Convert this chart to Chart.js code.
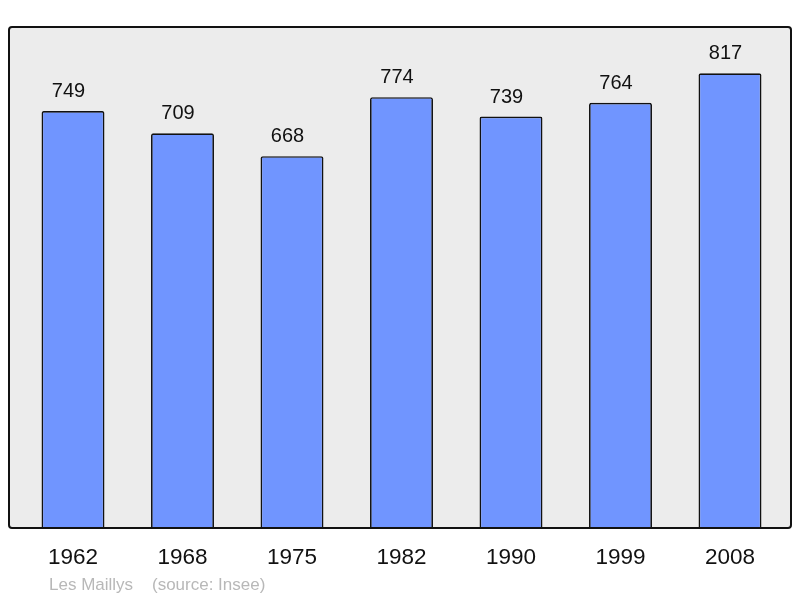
<!DOCTYPE html>
<html>
<head>
<meta charset="utf-8">
<script src="https://cdn.jsdelivr.net/npm/chart.js@4.4.0/dist/chart.umd.min.js"></script>
<style>
html,body{margin:0;padding:0;background:#fff;}
#wrap{width:800px;height:598px;position:relative;}
</style>
</head>
<body>
<div id="wrap"><canvas id="c" width="800" height="598"></canvas></div>
<script>
const categories = ["1962","1968","1975","1982","1990","1999","2008"];
const population = [749,709,668,774,739,764,817];
const yMax = 900;
const footerText = "Les Maillys    (source: Insee)";

const framePlugin = {
  id: 'frame',
  beforeDatasetsDraw(chart) {
    const {ctx, chartArea} = chart;
    const x0 = chartArea.left - 9.25, x1 = chartArea.right + 6.25;
    const y0 = chartArea.top, y1 = chartArea.bottom;
    ctx.save();
    ctx.beginPath();
    ctx.roundRect(x0, y0, x1 - x0, y1 - y0, 3);
    ctx.fillStyle = '#ececec';
    ctx.fill();
    ctx.restore();
  },
  afterDatasetsDraw(chart) {
    const {ctx, chartArea} = chart;
    const x0 = chartArea.left - 9.25, x1 = chartArea.right + 6.25;
    const y0 = chartArea.top, y1 = chartArea.bottom;
    ctx.save();
    ctx.beginPath();
    ctx.roundRect(x0, y0, x1 - x0, y1 - y0, 3);
    ctx.lineWidth = 2;
    ctx.strokeStyle = '#111';
    ctx.stroke();
    // value labels
    const meta = chart.getDatasetMeta(0);
    ctx.fillStyle = '#111';
    ctx.font = '20px "Liberation Sans", Arial, sans-serif';
    ctx.textAlign = 'center';
    ctx.textBaseline = 'alphabetic';
    meta.data.forEach((bar, i) => {
      ctx.fillText(String(chart.data.datasets[0].data[i]), bar.x - 4.5, bar.y - 14);
    });
    // footer
    ctx.fillStyle = '#b8b8b8';
    ctx.font = '17px "Liberation Sans", Arial, sans-serif';
    ctx.textAlign = 'left';
    ctx.fillText(footerText, 49, 590);
    ctx.restore();
  }
};

new Chart(document.getElementById('c'), {
  type: 'bar',
  data: {
    labels: categories,
    datasets: [{
      data: population,
      backgroundColor: '#7095ff',
      borderColor: '#111',
      borderWidth: 1.7,
      borderRadius: 2,
      borderSkipped: 'bottom',
      barPercentage: 0.575,
      categoryPercentage: 1.0
    }]
  },
  options: {
    responsive: false,
    animation: false,
    events: [],
    layout: { padding: { left: 18.25, right: 15.25, top: 27, bottom: 11 } },
    plugins: { legend: { display: false }, tooltip: { enabled: false } },
    scales: {
      x: {
        grid: { display: false, drawTicks: false, tickLength: 0 },
        border: { display: false },
        ticks: { color: '#111', font: { size: 22.5, family: '"Liberation Sans", Arial, sans-serif' }, padding: 16, maxRotation: 0 }
      },
      y: { display: false, min: 0, max: yMax }
    }
  },
  plugins: [framePlugin]
});
</script>
</body>
</html>
